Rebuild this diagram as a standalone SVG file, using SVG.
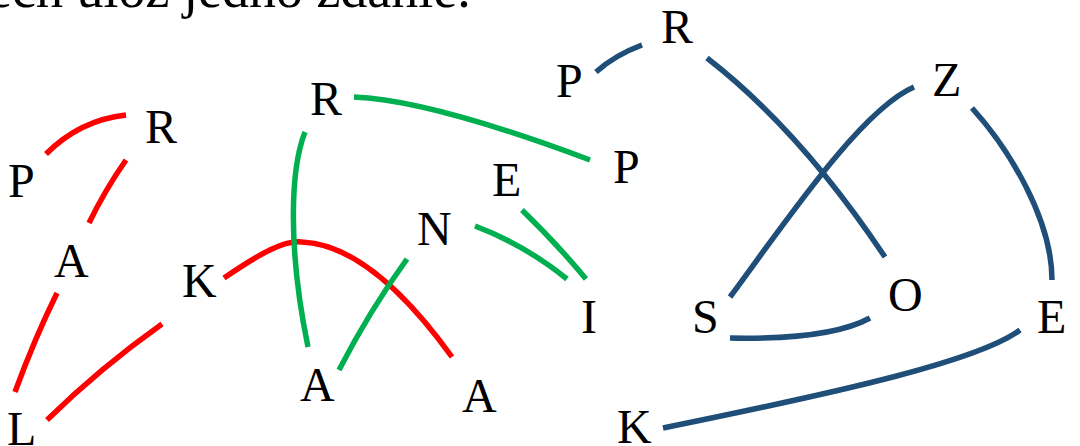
<svg xmlns="http://www.w3.org/2000/svg" width="1080" height="446" viewBox="0 0 1080 446">
<style>
text{font-family:'Liberation Serif','Times New Roman',serif;font-size:48px;fill:#000}
.top{font-size:54px}
path{fill:none;stroke-width:5.5;stroke-linecap:butt}
.r{stroke:#FF0000}
.g{stroke:#00B050}
.b{stroke:#1F4E79}
</style>
<rect width="1080" height="446" fill="#fff"/>
<text class="top" x="-12" y="7">ech ułóż jedno zdanie.</text>
<g id="connectors">
<path class="r" d="M46,154 Q80,120 126,115"/>
<path class="r" d="M126,160 Q105,190 89,223"/>
<path class="r" d="M57,293 Q34,340 15,392"/>
<path class="r" d="M162,324 Q100,368 47,420"/>
<path class="r" d="M224,278 C262,252 285,240 302,242 C350,244 400,285 452,357"/>
<path class="g" d="M354,97 Q430,100 590,160"/>
<path class="g" d="M305,132 C290,170 288,250 308,347"/>
<path class="g" d="M339,370 Q370,310 407,259"/>
<path class="g" d="M475,226 Q525,245 567,279"/>
<path class="g" d="M522,210 Q558,245 586,279"/>
<path class="b" d="M596,72 Q615,55 642,45"/>
<path class="b" d="M707,58 Q800,130 885,257"/>
<path class="b" d="M914,87 C860,110 780,230 730,297"/>
<path class="b" d="M730,338 Q830,340 870,318"/>
<path class="b" d="M972,108 C1010,150 1052,220 1052,280"/>
<path class="b" d="M1020,330 C980,360 850,390 663,428"/>
</g>
<g id="red-P"><text x="8" y="197">P</text></g>
<g id="red-R"><text x="145" y="143">R</text></g>
<g id="red-A"><text x="54" y="277">A</text></g>
<g id="red-K"><text x="182" y="297">K</text></g>
<g id="red-L"><text x="7" y="445">L</text></g>
<g id="red-A2"><text x="462" y="412">A</text></g>
<g id="green-R"><text x="310" y="115">R</text></g>
<g id="green-P"><text x="613" y="183">P</text></g>
<g id="green-E"><text x="492" y="196">E</text></g>
<g id="green-N"><text x="417" y="245">N</text></g>
<g id="green-I"><text x="581" y="333">I</text></g>
<g id="green-A"><text x="300" y="401">A</text></g>
<g id="blue-R"><text x="661" y="43">R</text></g>
<g id="blue-P"><text x="556" y="97">P</text></g>
<g id="blue-Z"><text x="932" y="96">Z</text></g>
<g id="blue-O"><text x="888" y="311">O</text></g>
<g id="blue-S"><text x="692" y="333">S</text></g>
<g id="blue-E"><text x="1037" y="333">E</text></g>
<g id="blue-K"><text x="617" y="443">K</text></g>
</svg>
